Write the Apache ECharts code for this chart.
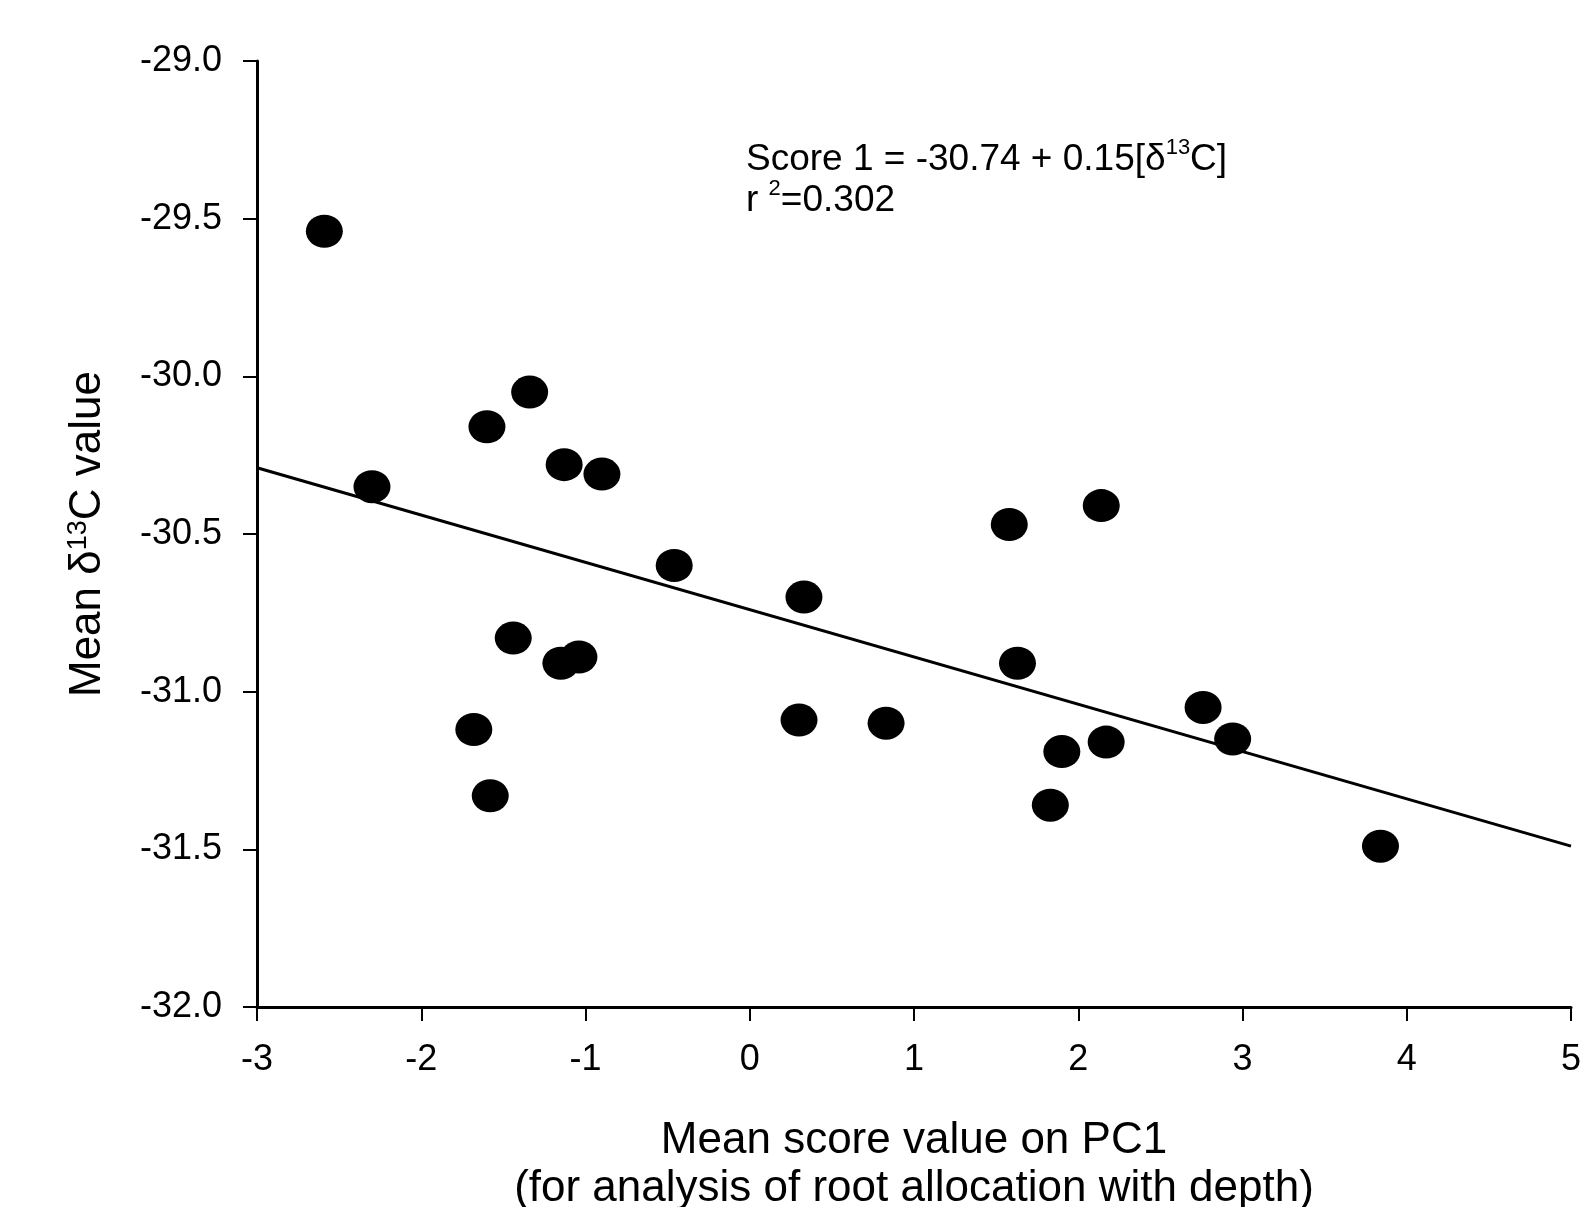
<!DOCTYPE html>
<html>
<head>
<meta charset="utf-8">
<script src="https://cdn.jsdelivr.net/npm/echarts@6/dist/echarts.min.js"></script>
<style>
  html, body { margin: 0; padding: 0; background: #fff; }
  #chart { width: 1591px; height: 1207px; }
</style>
</head>
<body>
<div id="chart"></div>
<script>
// mean PC1 score (x) vs mean d13C (y), one point per plot
var pcScore = [-2.59, -2.30, -1.60, -1.34, -1.13, -0.90, -1.44, -1.15, -1.04, -1.68, -1.58,
  -0.46, 0.33, 0.30, 0.83, 1.58, 2.14, 1.63, 1.90, 2.17, 1.83, 2.76, 2.94, 3.84]
var d13C = [-29.54, -30.35, -30.16, -30.05, -30.28, -30.31, -30.83, -30.91, -30.89, -31.12, -31.33,
  -30.60, -30.70, -31.09, -31.10, -30.47, -30.41, -30.91, -31.19, -31.16, -31.36, -31.05, -31.15, -31.49]

// fitted line end points
var fitX = [-3, 5]
var fitY = [-30.29, -31.49]

var xTicks = { min: -3, max: 5, step: 1 }
var yTicks = { min: -32, max: -29, step: 0.5 }

var font = 'Arial, "Liberation Sans", sans-serif'

var chart = echarts.init(document.getElementById('chart'))

chart.setOption({
  animation: false,
  backgroundColor: '#fff',
  grid: {
    left: 257,
    right: 20,
    top: 61,
    bottom: 200,
    outerBoundsMode: 'none'
  },
  xAxis: {
    type: 'value',
    min: xTicks.min,
    max: xTicks.max,
    interval: xTicks.step,
    axisLine: { onZero: false, lineStyle: { color: '#000', width: 3 } },
    axisTick: { show: true, inside: false, length: 14, lineStyle: { color: '#000', width: 2 } },
    splitLine: { show: false },
    axisLabel: { color: '#000', fontSize: 36, fontFamily: font, margin: 35 },
    name: 'Mean score value on PC1\n(for analysis of root allocation with depth)',
    nameLocation: 'middle',
    nameGap: 110,
    nameTextStyle: { color: '#000', fontSize: 44, fontFamily: font, lineHeight: 48 }
  },
  yAxis: {
    type: 'value',
    min: yTicks.min,
    max: yTicks.max,
    interval: yTicks.step,
    axisLine: { show: true, onZero: false, lineStyle: { color: '#000', width: 3 } },
    axisTick: { show: true, inside: false, length: 14, lineStyle: { color: '#000', width: 2 } },
    splitLine: { show: false },
    axisLabel: {
      color: '#000', fontSize: 36, fontFamily: font, margin: 35,
      formatter: function (v) { return v.toFixed(1) }
    },
    name: '{t|Mean δ}{s|13}{t|C value}',
    nameLocation: 'middle',
    nameRotate: 90,
    nameGap: 147,
    nameTextStyle: {
      rich: {
        t: { color: '#000', fontSize: 44, fontFamily: font, verticalAlign: 'bottom' },
        s: { color: '#000', fontSize: 27, fontFamily: font, verticalAlign: 'top', padding: [0, 0, 18, 0] }
      }
    }
  },
  graphic: [{
    type: 'text',
    left: 746,
    top: 137,
    style: {
      text: '{t|Score 1 = -30.74 + 0.15[δ}{s|13}{t|C]}\n{t|r }{s|2}{t|=0.302}',
      rich: {
        t: { fill: '#000', fontSize: 37, fontFamily: font, lineHeight: 41, verticalAlign: 'bottom' },
        s: { fill: '#000', fontSize: 22, fontFamily: font, lineHeight: 41, verticalAlign: 'top', padding: [0, 0, 14, 0] }
      }
    }
  }],
  series: [
    {
      type: 'line',
      data: fitX.map(function (x, i) { return [x, fitY[i]] }),
      showSymbol: false,
      symbol: 'none',
      lineStyle: { color: '#000', width: 3 },
      z: 2
    },
    {
      type: 'scatter',
      data: pcScore.map(function (x, i) { return [x, d13C[i]] }),
      symbol: 'circle',
      symbolSize: [37, 33],
      itemStyle: { color: '#000', opacity: 1 },
      z: 3
    }
  ]
})
</script>
</body>
</html>
